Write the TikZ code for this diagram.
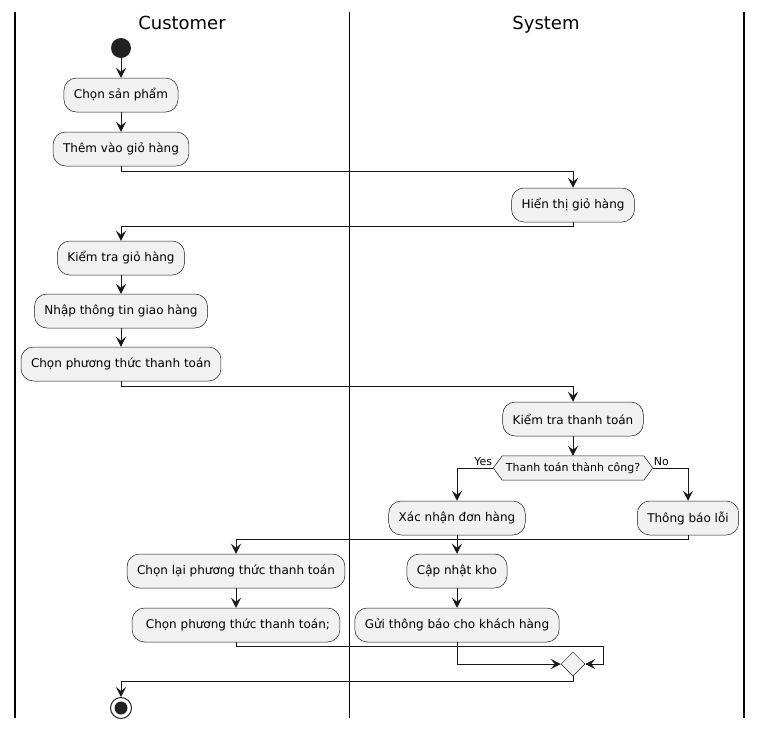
\documentclass[tikz,border=0pt]{standalone}
\usepackage{fontspec}
\setmainfont{DejaVu Sans}
\usetikzlibrary{arrows.meta,calc,shapes.geometric,backgrounds}
\definecolor{boxfill}{HTML}{F1F1F1}
\definecolor{boxline}{HTML}{181818}
\definecolor{dark}{HTML}{222222}
\begin{document}
\begin{tikzpicture}[x=1pt,y=-1pt,
  act/.style={rectangle,rounded corners=12.5pt,draw=boxline,line width=0.5pt,fill=boxfill,
    minimum height=34pt,inner xsep=10pt,inner ysep=0pt,font=\fontsize{12}{14}\selectfont},
  arr/.style={draw=boxline,line width=1pt,-{Stealth[length=10pt,width=10pt,inset=4pt]}},
  lane/.style={draw=black,line width=1.5pt},
  lanetitle/.style={font=\fontsize{18}{21}\selectfont,inner sep=0pt,anchor=base},
  lbl/.style={font=\fontsize{11}{13}\selectfont,inner sep=0pt}]
\useasboundingbox (0,0) rectangle (762,729);
\begin{scope}[on background layer]
\fill[white] (0,0) rectangle (762,729);
\end{scope}
% swimlanes
\draw[lane] (15,12) -- (15,718);
\draw[lane] (349.5,12) -- (349.5,718);
\draw[lane] (744,12) -- (744,718);
\node[lanetitle] (tc) at (182,29.5) {Customer};
\node[lanetitle] (ts) at (546,29.5) {System};
% nodes
\node[circle,fill=dark,minimum size=20pt,inner sep=0pt] (start) at (121,48) {};
\node[act] (a1) at (121,95) {Chọn sản phẩm};
\node[act] (a2) at (121,149) {Thêm vào giỏ hàng};
\node[act] (a3) at (573,205) {Hiển thị giỏ hàng};
\node[act] (a4) at (121,258) {Kiểm tra giỏ hàng};
\node[act] (a5) at (121,311) {Nhập thông tin giao hàng};
\node[act] (a6) at (121,364) {Chọn phương thức thanh toán};
\node[act] (a7) at (573,419) {Kiểm tra thanh toán};
\node[rectangle,minimum height=24pt,inner xsep=3.5pt,inner ysep=0pt,font=\fontsize{11}{13}\selectfont] (dec) at (573,468) {Thanh toán thành công?};
\coordinate (decL) at ($(dec.west)+(-9,0)$);
\coordinate (decR) at ($(dec.east)+(9,0)$);
\begin{scope}[on background layer]
\draw[draw=boxline,line width=0.5pt,fill=boxfill] (dec.north west) -- (dec.north east) -- (decR) -- (dec.south east) -- (dec.south west) -- (decL) -- cycle;
\end{scope}
\node[act] (a8) at (457,518) {Xác nhận đơn hàng};
\node[act] (a9) at (688,518) {Thông báo lỗi};
\node[act] (a10) at (236,571) {Chọn lại phương thức thanh toán};
\node[act] (a11) at (236,625) {\ Chọn phương thức thanh toán;};
\node[act] (a12) at (457,571) {Cập nhật kho};
\node[act] (a13) at (457,625) {Gửi thông báo cho khách hàng};
\node[diamond,draw=boxline,line width=0.5pt,fill=boxfill,minimum width=24pt,minimum height=24pt,inner sep=0pt] (merge) at (573,664) {};
\node[circle,draw=dark,line width=1pt,fill=white,minimum size=21pt,inner sep=0pt] (end) at (121,708) {};
\fill[dark] (end.center) circle (6.5pt);
% connectors
\draw[arr] (start) -- (a1);
\draw[arr] (a1) -- (a2);
\draw[arr] (a2.south) -- ++(0,5) -| (a3.north);
\draw[arr] (a3.south) -- ++(0,4) -| (a4.north);
\draw[arr] (a4) -- (a5);
\draw[arr] (a5) -- (a6);
\draw[arr] (a6.south) -- ++(0,5) -| (a7.north);
\draw[arr] (a7) -- (dec.north);
\draw[arr] (decL) -| (a8.north);
\draw[arr] (decR) -| (a9.north);
\node[lbl,anchor=base east] (yes) at ($(decL)+(-1,-2.5)$) {Yes};
\node[lbl,anchor=base west] (no) at ($(decR)+(1,-2.5)$) {No};
\draw[arr] (a9.south) -- ++(0,4) -| (a10.north);
\draw[arr] (a8) -- (a12);
\draw[arr] (a10) -- (a11);
\draw[arr] (a12) -- (a13);
\coordinate (mr) at ($(merge.east)+(18,0)$);
\draw[arr] (a11.south) -- ++(0,4) -| (mr) -- (merge.east);
\draw[arr] (a13.south) |- (merge.west);
\draw[arr] (merge.south) -- ++(0,5) -| (end.north);
\end{tikzpicture}
\end{document}
